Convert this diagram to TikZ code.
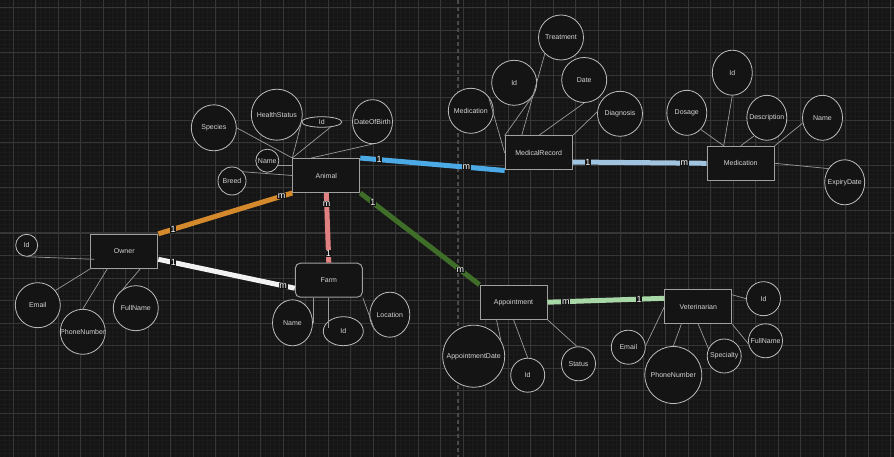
\documentclass[tikz,border=0pt]{standalone}
\usepackage{fontspec}
\setmainfont{Liberation Sans}
\usetikzlibrary{shapes.geometric}
\definecolor{bgdark}{HTML}{151515}
\definecolor{gridmajor}{HTML}{363636}
\definecolor{gridminor}{HTML}{1B1B1B}
\definecolor{griddash}{HTML}{4A4A4A}
\definecolor{nodefill}{HTML}{141414}
\definecolor{entityline}{HTML}{A0A0A0}
\definecolor{attrline}{HTML}{BDBDBD}
\definecolor{linkgray}{HTML}{9A9A9A}
\definecolor{labeltext}{HTML}{D4D4D4}
\definecolor{relblue}{HTML}{4BAAE6}
\definecolor{relpale}{HTML}{A0C4E0}
\definecolor{relgreen}{HTML}{3F6E28}
\definecolor{relmint}{HTML}{A8D8A8}
\definecolor{relpink}{HTML}{E08080}
\definecolor{relorange}{HTML}{D48A2C}
\definecolor{relwhite}{HTML}{F2F2F2}
\newcommand{\attrname}[1]{\makebox[0pt]{#1}}
\begin{document}
\begin{tikzpicture}[x=1pt,y=-1pt,
	entity/.style={draw=entityline,fill=nodefill,line width=1pt,minimum width=67pt,minimum height=34pt,text=labeltext,font=\fontsize{7}{8}\selectfont},
	attr/.style={ellipse,draw=attrline,fill=nodefill,line width=0.8pt,inner sep=0pt,text=labeltext,font=\fontsize{7}{8}\selectfont},
	link/.style={draw=linkgray,line width=0.7pt},
	rel/.style={line width=5pt},
	mult/.style={fill=nodefill,text=white,inner sep=0.6pt,font=\fontsize{9}{10}\selectfont}]
	\useasboundingbox (0,0) rectangle (894,457);
	\fill[bgdark] (0,0) rectangle (894,457);
	\foreach \i in {0,...,198} \draw[gridminor,line width=0.5pt] (4.3+4.5*\i,0) -- (4.3+4.5*\i,457);
	\foreach \j in {0,...,101} \draw[gridminor,line width=0.5pt] (0,3.5+4.5*\j) -- (894,3.5+4.5*\j);
	\foreach \i in {0,...,39} \draw[gridmajor,line width=1pt] (13.3+22.5*\i,0) -- (13.3+22.5*\i,457);
	\foreach \j in {0,...,20} \draw[gridmajor,line width=1pt] (0,8+22.5*\j) -- (894,8+22.5*\j);
	\draw[griddash,line width=1.5pt,dash pattern=on 4pt off 3pt] (458,0) -- (458,457);

	\node[entity] (animal) at (326.3,175.5) {Animal};
	\node[entity] (owner) at (124.3,251.3) {Owner};
	\node[entity,rounded corners=5pt] (farm) at (328.8,280.2) {Farm};
	\node[entity] (mrec) at (538.7,153) {MedicalRecord};
	\node[entity] (med) at (740.7,163.3) {Medication};
	\node[entity] (appt) at (513.5,302.2) {Appointment};
	\node[entity] (vet) at (698.3,306.8) {Veterinarian};

	\node[attr,minimum width=45pt,minimum height=46pt] (aspecies) at (213.8,127.8) {\attrname{Species}};
	\node[attr,minimum width=51pt,minimum height=51pt] (ahealth) at (276.8,114.7) {\attrname{HealthStatus}};
	\node[attr,minimum width=40pt,minimum height=10.5pt] (aid) at (321.8,122) {\attrname{Id}};
	\node[attr,minimum width=40pt,minimum height=44pt] (adob) at (372.5,121.7) {\attrname{DateOfBirth}};
	\node[attr,minimum width=23pt,minimum height=23pt] (aname) at (267.3,160.7) {\attrname{Name}};
	\node[attr,minimum width=28pt,minimum height=28pt] (abreed) at (232,181) {\attrname{Breed}};

	\node[attr,minimum width=22pt,minimum height=22pt] (oid) at (26.7,245.3) {\attrname{Id}};
	\node[attr,minimum width=45pt,minimum height=45pt] (oemail) at (37.8,305.2) {\attrname{Email}};
	\node[attr,minimum width=45pt,minimum height=45pt] (ophone) at (82.8,331.8) {\attrname{PhoneNumber}};
	\node[attr,minimum width=45pt,minimum height=45pt] (ofull) at (135.8,308.2) {\attrname{FullName}};

	\node[attr,minimum width=40pt,minimum height=46pt] (fname) at (292.5,322.8) {\attrname{Name}};
	\node[attr,minimum width=40pt,minimum height=29pt] (fid) at (343.3,331.2) {\attrname{Id}};
	\node[attr,minimum width=40pt,minimum height=45pt] (floc) at (389.8,314.7) {\attrname{Location}};

	\node[attr,minimum width=45pt,minimum height=45pt] (mtreat) at (561,37.5) {\attrname{Treatment}};
	\node[attr,minimum width=45pt,minimum height=45pt] (mid) at (514.2,82.8) {\attrname{Id}};
	\node[attr,minimum width=45pt,minimum height=45pt] (mdate) at (584.2,80) {\attrname{Date}};
	\node[attr,minimum width=45pt,minimum height=45pt] (mdiag) at (620,113.8) {\attrname{Diagnosis}};
	\node[attr,minimum width=45pt,minimum height=45pt] (mmed) at (470.8,110.8) {\attrname{Medication}};

	\node[attr,minimum width=40pt,minimum height=45pt] (did) at (732.3,72.7) {\attrname{Id}};
	\node[attr,minimum width=40pt,minimum height=45pt] (dosage) at (686.8,112.8) {\attrname{Dosage}};
	\node[attr,minimum width=40pt,minimum height=45pt] (desc) at (766.8,117.8) {\attrname{Description}};
	\node[attr,minimum width=40pt,minimum height=45pt] (dname) at (822.5,117.8) {\attrname{Name}};
	\node[attr,minimum width=40pt,minimum height=45pt] (expiry) at (844.7,182.3) {\attrname{ExpiryDate}};

	\node[attr,minimum width=62pt,minimum height=62pt] (appdate) at (473.7,356.2) {\attrname{AppointmentDate}};
	\node[attr,minimum width=34pt,minimum height=34pt] (ptid) at (527.7,375.2) {\attrname{Id}};
	\node[attr,minimum width=34pt,minimum height=34pt] (status) at (578.5,363.8) {\attrname{Status}};

	\node[attr,minimum width=34pt,minimum height=34pt] (vid) at (763.5,298.7) {\attrname{Id}};
	\node[attr,minimum width=34pt,minimum height=34pt] (vfull) at (765.5,340.8) {\attrname{FullName}};
	\node[attr,minimum width=34pt,minimum height=34pt] (vemail) at (628.3,347.2) {\attrname{Email}};
	\node[attr,minimum width=57pt,minimum height=57pt] (vphone) at (673.3,375) {\attrname{PhoneNumber}};
	\node[attr,minimum width=34pt,minimum height=34pt] (vspec) at (724.2,356) {\attrname{Specialty}};

	\draw[link] (aspecies.east) -- (animal.north west);
	\draw[link] (ahealth.-20) -- (animal.north west);
	\draw[link] (aid.-30) -- (animal.north west);
	\draw[link] (adob.south) -- ([xshift=-15pt]animal.north);
	\draw[link] (aname.-25) -- (animal.west |- aname.-25);
	\draw[link] (abreed.40) -- (animal.west);

	\draw[link] (oid.south) -- ([xshift=4pt,yshift=-8pt]owner.west);
	\draw[link] (oemail.40) -- (owner.south west);
	\draw[link] (ophone.north) -- ([xshift=-17pt]owner.south);
	\draw[link] (ofull.125) -- ([xshift=16pt]owner.south);

	\draw[link] (fname.east) -- (fname.east |- farm.south);
	\draw[link] (farm.south) -- (farm.south |- fid.170);
	\draw[link] (floc.225) -- (farm.south east);

	\draw[link] (mtreat.225) -- ([xshift=-17pt]mrec.north);
	\draw[link] (mid.-30) -- (mrec.north west);
	\draw[link] (mdate.south) -- (mrec.north);
	\draw[link] (mdiag.175) -- (mrec.north east);
	\draw[link] (mmed.40) -- (mrec.west);

	\draw[link] (did.south) -- ([xshift=-17pt]med.north);
	\draw[link] (dosage.-50) -- ([xshift=-17pt]med.north);
	\draw[link] (desc.235) -- (med.north);
	\draw[link] (dname.195) -- (med.north east);
	\draw[link] (expiry.140) -- (med.east);

	\draw[link] (appdate.30) -- ([xshift=-17pt]appt.south);
	\draw[link] (ptid.north) -- (appt.south);
	\draw[link] (status.95) -- (appt.south east);

	\draw[link] (vid.west) -- ([yshift=12pt]vet.east);
	\draw[link] (vfull.190) -- (vet.south east);
	\draw[link] (vemail.5) -- (vet.west);
	\draw[link] (vphone.north) -- ([xshift=-17pt]vet.south);
	\draw[link] (vspec.155) -- (vet.south);

	\draw[rel,relblue] (animal.north east) -- node[mult,pos=0.13]{1} node[mult,pos=0.735]{m} (mrec.south west);
	\draw[rel,relgreen] (animal.south east) -- node[mult,pos=0.106]{1} node[mult,pos=0.84]{m} (appt.north west);
	\draw[rel,relpink] (animal.south) -- node[mult,pos=0.16]{m} node[mult,pos=0.87]{1} (farm.north);
	\draw[rel,relorange] (owner.north east) -- node[mult,pos=0.11]{1} node[mult,pos=0.92]{m} (animal.south west);
	\draw[rel,relwhite] ([yshift=-8pt]owner.east) -- node[mult,pos=0.11]{1} node[mult,pos=0.915]{m} ([yshift=-8pt]farm.west);
	\draw[rel,relpale] ([yshift=-9pt]mrec.east) -- node[mult,pos=0.114]{1} node[mult,pos=0.833]{m} (med.west);
	\draw[rel,relmint] (appt.east) -- node[mult,pos=0.157]{m} node[mult,pos=0.785]{1} ([yshift=8.5pt]vet.west);
\end{tikzpicture}
\end{document}
